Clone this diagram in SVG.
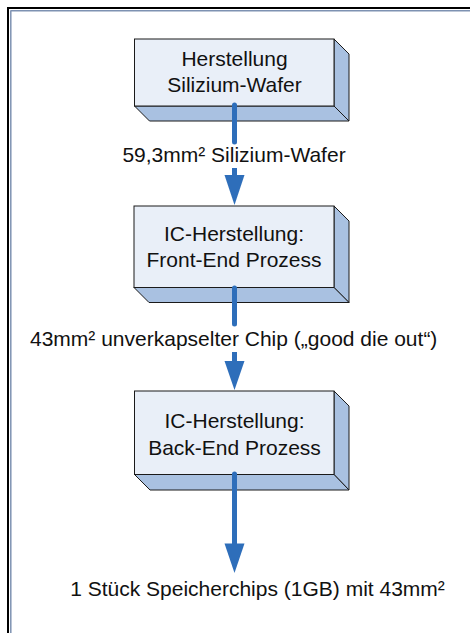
<svg xmlns="http://www.w3.org/2000/svg" width="470" height="633" viewBox="0 0 470 633">
<style>
.front{fill:#E9EFF8;stroke:#1a1a1a;stroke-width:1}
.side{fill:#A9C1E1;stroke:#1a1a1a;stroke-width:1;stroke-linejoin:miter}
.t{font-family:"Liberation Sans",Arial,sans-serif;font-size:21px;fill:#111;text-anchor:middle}
.shaft{stroke:#2E6EBA;stroke-width:5;fill:none}
.head{fill:#2E6EBA}
</style>
<rect x="0" y="0" width="470" height="633" fill="#fff"/>
<g id="frame">
<line x1="7" y1="8" x2="470" y2="8" stroke="#000" stroke-width="2"/>
<line x1="8" y1="7" x2="8" y2="633" stroke="#000" stroke-width="2"/>
<line x1="10.5" y1="10.8" x2="470" y2="10.8" stroke="#7E92B2" stroke-width="1.5"/>
<line x1="10.8" y1="10.5" x2="10.8" y2="633" stroke="#7E92B2" stroke-width="1.5"/>
</g>
<g id="node1">
<polygon class="side" points="334,39 349,54 349,121 334,106"/>
<polygon class="side" points="134.5,106 334,106 349,121 149.5,121"/>
<rect class="front" x="134.5" y="39" width="199.5" height="67"/>
<text class="t" x="234.5" y="66">Herstellung</text>
<text class="t" x="234.5" y="91.5">Silizium-Wafer</text>
</g>
<g id="node2">
<polygon class="side" points="334,206 349,221 349,302.5 334,287.5"/>
<polygon class="side" points="134,287.5 334,287.5 349,302.5 149,302.5"/>
<rect class="front" x="134" y="206" width="200" height="81.5"/>
<text class="t" x="234" y="240.5">IC-Herstellung:</text>
<text class="t" x="234" y="266.5">Front-End Prozess</text>
</g>
<g id="node3">
<polygon class="side" points="334,391 349,406 349,490 334,474.5"/>
<polygon class="side" points="134.5,474.5 334,474.5 349,490 150,490"/>
<rect class="front" x="134.5" y="391" width="199.5" height="83.5"/>
<text class="t" x="234.5" y="428">IC-Herstellung:</text>
<text class="t" x="234.5" y="455">Back-End Prozess</text>
</g>
<g id="connectors">
<line class="shaft" x1="234.5" y1="105" x2="234.5" y2="142" stroke-linecap="round"/>
<line class="shaft" x1="234.5" y1="168" x2="234.5" y2="176"/>
<polygon class="head" points="224.5,175 244.5,175 234.5,205"/>
<line class="shaft" x1="234.5" y1="288" x2="234.5" y2="324" stroke-linecap="round"/>
<line class="shaft" x1="234.5" y1="352" x2="234.5" y2="362"/>
<polygon class="head" points="224.5,361 244.5,361 234.5,390"/>
<line class="shaft" x1="234.5" y1="474" x2="234.5" y2="544" stroke-linecap="round"/>
<polygon class="head" points="224.5,543.5 244.5,543.5 234.5,573"/>
</g>
<g id="labels">
<text class="t" x="234" y="162">59,3mm² Silizium-Wafer</text>
<text class="t" x="233.7" y="345.7">43mm² unverkapselter Chip („good die out“)</text>
<text class="t" x="257.5" y="595.7">1 Stück Speicherchips (1GB) mit 43mm²</text>
</g>
</svg>
